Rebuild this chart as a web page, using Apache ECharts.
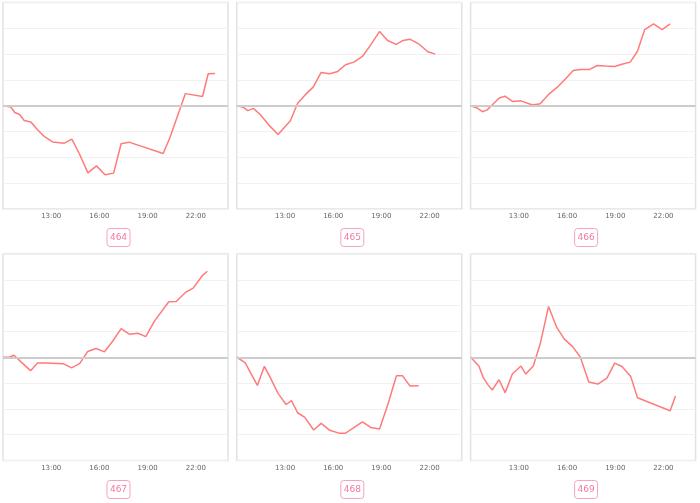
<!DOCTYPE html>
<html><head><meta charset="utf-8">
<script src="https://cdn.jsdelivr.net/npm/echarts@6/dist/echarts.min.js"></script>
<style>html,body{margin:0;padding:0;background:#fff}#c{width:700px;height:503px}</style>
</head><body><div id="c"></div>
<script>
const titles = ['464', '465', '466', '467', '468', '469'];
const tickLabels = ['13:00', '16:00', '19:00', '22:00'];

const times464 = ['10:00','10:29','10:44','11:02','11:19','11:44','12:09','12:34','13:05','13:49','14:17','14:45','15:17','15:49','16:21','16:53','17:21','17:50','19:58','20:23','21:21','22:25','22:46','23:11'];
const vals464 = [0,-0.05,-0.26,-0.34,-0.57,-0.63,-0.93,-1.19,-1.40,-1.45,-1.29,-1.86,-2.60,-2.33,-2.67,-2.61,-1.47,-1.41,-1.85,-1.24,0.47,0.36,1.24,1.25];

const times465 = ['10:00','10:25','10:41','11:02','11:28','11:59','12:34','13:20','13:47','14:16','14:45','15:15','15:47','16:17','16:46','17:17','17:49','18:20','18:53','19:23','19:55','20:21','20:46','21:19','21:53','22:21'];
const vals465 = [0,-0.06,-0.19,-0.10,-0.35,-0.74,-1.11,-0.58,0.10,0.43,0.72,1.29,1.24,1.33,1.59,1.69,1.91,2.36,2.88,2.53,2.38,2.53,2.58,2.40,2.09,2.00];

const times466 = ['10:00','10:25','10:44','11:02','11:25','11:47','12:08','12:38','13:08','13:51','14:20','14:50','15:23','15:53','16:23','16:50','17:23','17:53','18:23','18:58','19:25','19:56','20:23','20:50','21:23','21:55','22:25'];
const vals466 = [0,-0.09,-0.23,-0.16,0.08,0.30,0.37,0.16,0.19,0.03,0.08,0.43,0.71,1.03,1.37,1.40,1.40,1.56,1.54,1.52,1.61,1.69,2.11,2.95,3.17,2.95,3.17];

const times467 = ['10:00','10:25','10:41','11:06','11:43','12:09','12:40','13:45','14:16','14:46','15:16','15:47','16:19','16:50','17:21','17:53','18:24','18:53','19:26','20:19','20:47','21:21','21:50','22:24','22:43'];
const vals467 = [0,0.01,0.08,-0.17,-0.52,-0.22,-0.22,-0.25,-0.41,-0.25,0.22,0.34,0.21,0.63,1.11,0.89,0.93,0.80,1.41,2.15,2.16,2.51,2.68,3.16,3.33];

const times468 = ['10:00','10:31','10:56','11:17','11:43','12:05','12:34','13:04','13:24','13:47','14:14','14:47','15:15','15:47','16:21','16:46','17:17','17:49','18:20','18:53','19:25','19:56','20:19','20:46','21:19'];
const vals468 = [0,-0.21,-0.69,-1.09,-0.35,-0.79,-1.40,-1.83,-1.68,-2.15,-2.33,-2.82,-2.56,-2.83,-2.94,-2.94,-2.73,-2.50,-2.72,-2.78,-1.79,-0.72,-0.72,-1.11,-1.10];

const times469 = ['10:00','10:31','10:47','11:05','11:21','11:46','12:09','12:36','13:08','13:26','13:54','14:20','14:51','15:21','15:50','16:21','16:50','17:21','17:55','18:29','18:58','19:25','19:58','20:23','22:25','22:45'];
const vals469 = [0,-0.34,-0.78,-1.07,-1.27,-0.87,-1.37,-0.65,-0.34,-0.65,-0.34,0.52,1.97,1.17,0.70,0.41,0,-0.96,-1.04,-0.81,-0.23,-0.36,-0.75,-1.57,-2.07,-1.50];

const allTimes = [times464, times465, times466, times467, times468, times469];
const allVals = [vals464, vals465, vals466, vals467, vals468, vals469];

const START_HOUR = 10;
function toX(t) {
  const p = t.split(':');
  return (+p[0] + (+p[1]) / 60) - START_HOUR;
}

const chart = echarts.init(document.getElementById('c'), null, {renderer: 'canvas'});
const grids = [], xAxes = [], yAxes = [], series = [], titleArr = [];
const FONT = 'DejaVu Sans';
for (let i = 0; i < 6; i++) {
  const c = i % 3, r = Math.floor(i / 3);
  const left = 3 + c * 233.8, width = 225;
  const top = r === 0 ? 2.5 : 254, height = 206.5;
  grids.push({left: left, top: top, width: width, height: height, show: true,
    borderColor: '#e2e2e2', borderWidth: 1.5, backgroundColor: 'transparent', containLabel: false});
  xAxes.push({type: 'value', gridIndex: i, min: 0, max: 14, interval: 3,
    axisLine: {show: false}, axisTick: {show: false}, splitLine: {show: false},
    axisLabel: {show: true, color: '#666', fontSize: 7, fontFamily: FONT, margin: 4,
      showMinLabel: false, showMaxLabel: false,
      formatter: v => (v > 0 && v / 3 - 1 < tickLabels.length) ? tickLabels[v / 3 - 1] : ''}});
  yAxes.push({type: 'value', gridIndex: i, min: -4, max: 4, interval: 1,
    axisLine: {show: false}, axisTick: {show: false}, axisLabel: {show: false},
    splitLine: {show: true, lineStyle: {color: '#f1f1f1', width: 1}}});
  series.push({type: 'line', xAxisIndex: i, yAxisIndex: i, showSymbol: false, symbol: 'none',
    animation: false, silent: true,
    lineStyle: {color: '#ff7b7b', width: 1.5}, itemStyle: {color: '#ff7b7b'},
    data: allTimes[i].map((t, k) => [toX(t), allVals[i][k]]),
    markLine: {silent: true, symbol: 'none', animation: false,
      lineStyle: {color: '#cccccc', width: 2, type: 'solid'}, label: {show: false},
      data: [{yAxis: 0}]}});
  titleArr.push({text: titles[i], left: left + width / 2, top: r === 0 ? 228 : 480,
    textAlign: 'center', padding: [5, 3], borderColor: '#f7a3bd', borderWidth: 1, borderRadius: 3,
    textStyle: {color: '#f27a9c', fontSize: 9, fontWeight: 'normal', fontFamily: FONT}});
}
chart.setOption({animation: false, title: titleArr, grid: grids, xAxis: xAxes, yAxis: yAxes, series: series});
</script></body></html>
